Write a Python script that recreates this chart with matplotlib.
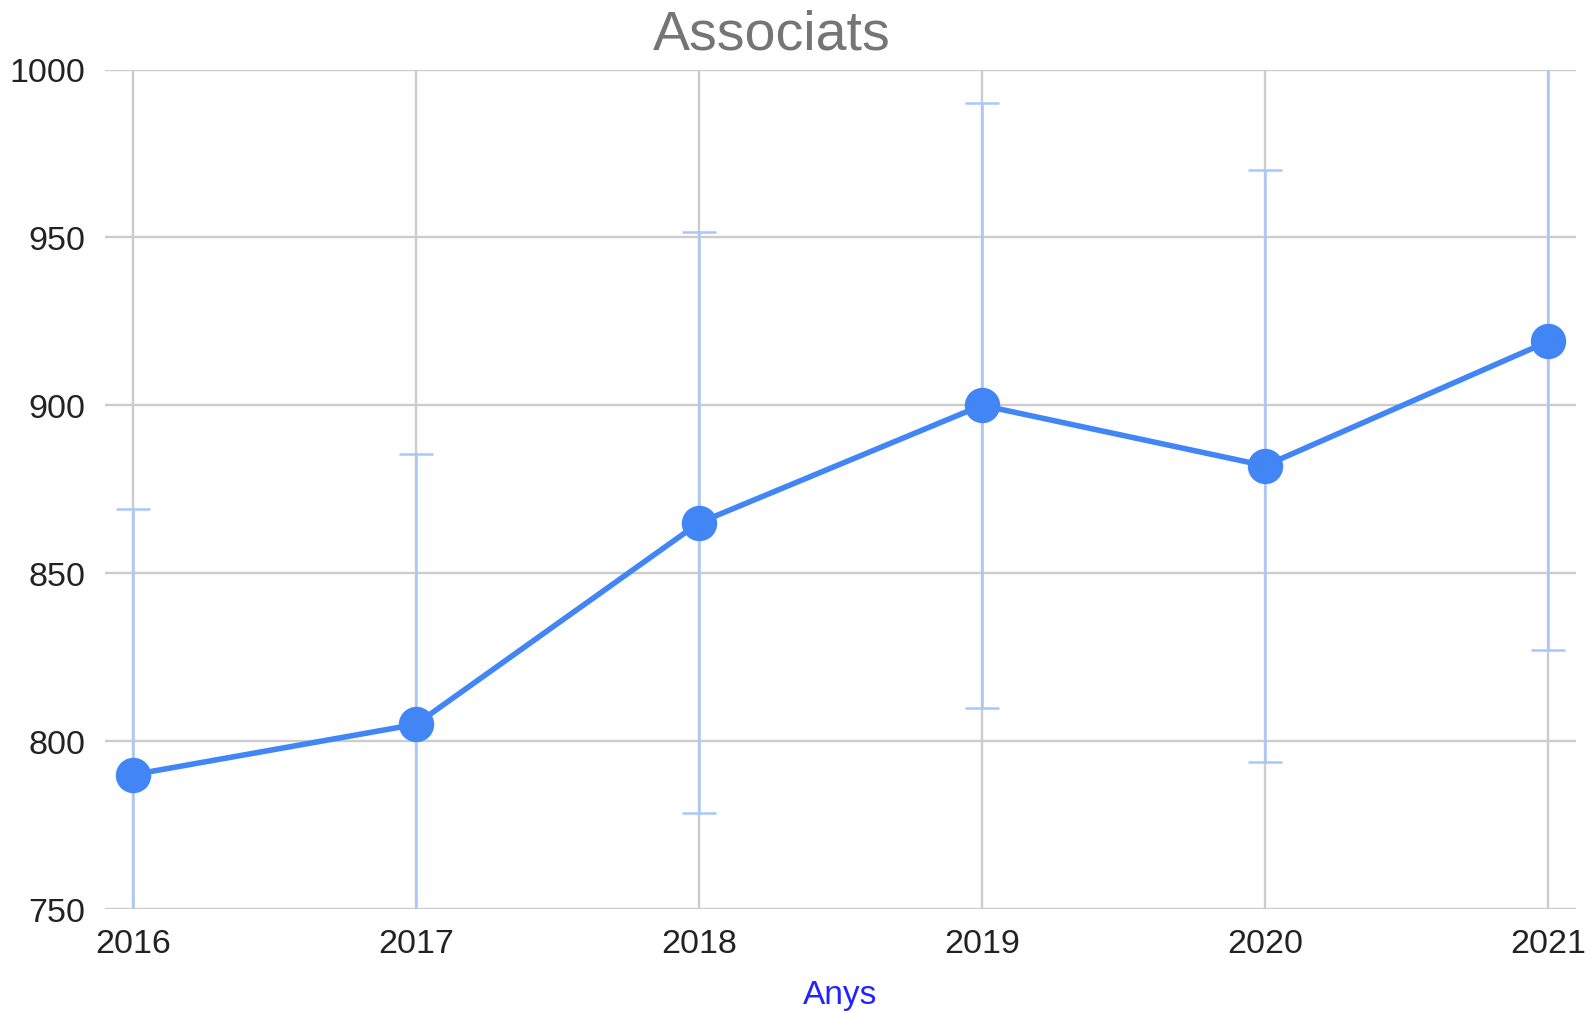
import matplotlib
matplotlib.use("Agg")
import matplotlib.pyplot as plt

years = [2016, 2017, 2018, 2019, 2020, 2021]
associats = [790, 805, 865, 900, 882, 919]
errors = [79, 80.5, 86.5, 90, 88.2, 91.9]
yticks = [750, 800, 850, 900, 950, 1000]
title = "Associats"
xlabel = "Anys"

plt.rcParams['font.family'] = ['Liberation Sans', 'DejaVu Sans']

W, H = 1590, 1012
fig = plt.figure(figsize=(W / 100, H / 100), dpi=100)
ax = fig.add_axes([105 / W, 1 - 910 / H, (1576 - 105) / W, (910 - 70.5) / H])

ax.errorbar(years, associats, yerr=errors, fmt='none', ecolor='#a8c7fa',
            elinewidth=1.8, capsize=12, capthick=1.8, zorder=3, clip_on=True)
ax.plot(years, associats, color='#4285f4', linewidth=4, marker='o',
        markersize=25.5, markeredgewidth=0, zorder=4, clip_on=False)

ax.set_xlim(2016 - 28 / 283, 2021 + 28 / 283)
ax.set_ylim(750, 1000)
ax.set_yticks(yticks)
ax.set_xticks(years)
ax.set_xticklabels([str(y) for y in years])
ax.grid(True, color='#cccccc', linewidth=1.7, zorder=0)
ax.set_axisbelow(True)
for s in ax.spines.values():
    s.set_visible(False)
ax.tick_params(axis='both', length=0, labelsize=24.5, colors='#222222')
ax.tick_params(axis='y', pad=14)
ax.tick_params(axis='x', pad=14)

fig.text(772 / W, 1 - 36 / H, title, ha='center', va='center',
         fontsize=40, color='#757575')
ax.set_xlabel(xlabel, fontsize=24, color='#2323ff', labelpad=14)

fig.savefig("out.png", dpi=100, facecolor='white')
